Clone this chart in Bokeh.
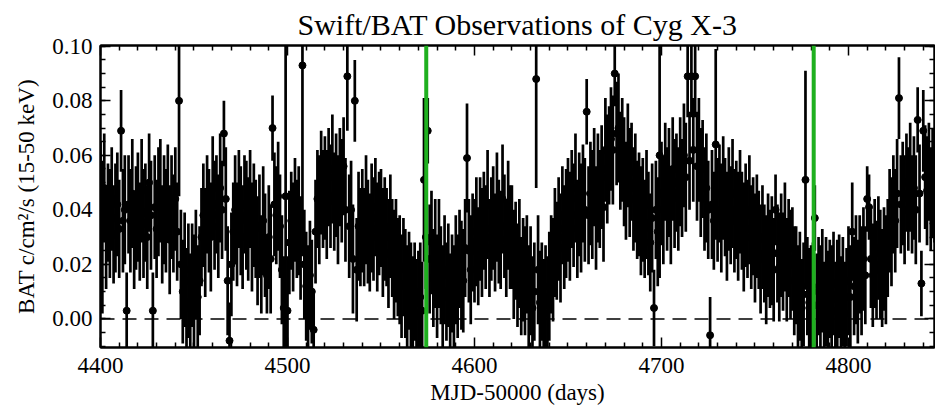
import numpy as np
from bokeh.plotting import figure
from bokeh.models import (ColumnDataSource, LinearAxis, FixedTicker, NumeralTickFormatter,
                          CustomJSTickFormatter, Span, Range1d)
from bokeh.embed import file_html
from bokeh.resources import INLINE

# ---------------- data ----------------
first_day = 4400  # MJD-50000 of first daily bin
# BAT rate in units of 1e-3 c/cm^2/s, one value per day from first_day
rate_milli = [
    40, 30, 48, 30, 39, 35, 44, 31, 37, 42,
    33, 69, 36, 40, 3, 42, 36, 46, 29, 37,
    41, 32, 47, 35, 39, 30, 50, 38, 3, 41,
    33, 43, 47, 31, 40, 36, 46, 29, 41, 35,
    44, 32, 80, 20, 10, 18, 6, 14, 4, 16,
    10, 20, 8, 14, 30, 38, 28, 42, 36, 30,
    48, 38, 42, 34, 48, 40, 68, 44, 14, -8,
    20, 32, 40, 31, 44, 36, 30, 42, 38, 33,
    44, 30, 38, 33, 25, 34, 20, 36, 27, 16,
    30, 22, 70, 42, 38, 45, 34, 18, 4, 45,
    3, 28, 36, 30, 40, 33, 36, 26, 93, 20,
    12, 8, 16, 10, -4, 32, 44, 40, 50, 44,
    48, 42, 52, 45, 55, 43, 49, 40, 52, 47,
    56, 40, 89, 34, 40, 22, 80, 18, 34, 30,
    36, 30, 40, 32, 28, 37, 33, 41, 30, 35,
    37, 28, 33, 30, 24, 34, 26, 20, 25, 19,
    18, 12, 19, 13, 8, 14, 8, 4, 10, 2,
    6, 8, 3, 51, 30, 69, 22, 28, 15, 24,
    12, 24, 16, 8, 18, 10, 16, 4, 13, 8,
    18, 12, 22, 16, 14, 26, 59, 25, 18, 28,
    25, 32, 23, 33, 28, 36, 30, 42, 26, 33,
    37, 28, 41, 32, 29, 44, 34, 26, 38, 30,
    30, 20, 25, 16, 24, 12, 18, 14, 20, 8,
    14, 4, 10, 88, 18, 6, 10, 2, 8, 5,
    12, 20, 18, 28, 25, 33, 26, 38, 30, 35,
    40, 34, 44, 38, 48, 33, 42, 37, 46, 40,
    76, 38, 46, 42, 52, 37, 48, 44, 52, 41,
    62, 55, 60, 66, 62, 90, 68, 70, 58, 62,
    54, 47, 60, 50, 54, 44, 48, 40, 42, 36,
    40, 33, 42, 35, 28, 37, 4, 40, 32, 60,
    46, 40, 54, 44, 50, 38, 55, 46, 50, 44,
    54, 48, 60, 52, 89, 58, 89, 62, 89, 56,
    62, 50, 55, 44, 48, 40, -6, 42, 36, 64,
    40, 46, 37, 48, 41, 34, 44, 38, 46, 36,
    40, 34, 43, 36, 30, 38, 33, 40, 30, 34,
    26, 34, 29, 22, 30, 24, 18, 27, 22, 25,
    18, 40, 24, 19, 27, 21, 30, 18, 26, 20,
    22, 14, 16, 8, 12, 4, 9, 51, 12, 6,
    8, 10, 37, 5, 12, 7, 14, 3, 10, 6,
    11, 7, 13, 3, 9, 12, 5, 10, 2, 8,
    14, 8, 32, 12, 18, 10, 20, 14, 22, 16,
    44, 41, 22, 16, 24, 18, 26, 20, 15, 22,
    18, 26, 36, 32, 42, 36, 46, 81, 42, 46,
    40, 50, 44, 52, 42, 48, 40, 73, 46, 13,
    69, 52, 47, 54, 44, 50, 46,
]
# 1-sigma errors, same units
err_milli = [
    25, 28, 20, 19, 18, 20, 19, 18, 20, 19,
    18, 15, 19, 20, 14, 18, 19, 20, 18, 19,
    20, 18, 19, 20, 18, 19, 18, 20, 14, 19,
    18, 20, 19, 18, 20, 19, 18, 20, 19, 18,
    19, 18, 35, 20, 19, 21, 20, 21, 20, 19,
    21, 20, 19, 20, 18, 19, 20, 18, 19, 20,
    19, 20, 18, 19, 20, 18, 12, 19, 20, 14,
    19, 18, 20, 19, 18, 20, 19, 18, 20, 19,
    18, 20, 19, 18, 20, 19, 18, 20, 19, 14,
    19, 20, 12, 19, 18, 20, 19, 20, 19, 60,
    20, 19, 18, 20, 19, 18, 20, 19, 70, 20,
    20, 19, 20, 19, 14, 19, 18, 20, 19, 18,
    19, 20, 18, 19, 20, 18, 19, 20, 18, 19,
    18, 19, 20, 19, 18, 20, 15, 19, 20, 18,
    19, 18, 20, 19, 18, 20, 19, 18, 20, 19,
    18, 20, 19, 18, 20, 19, 18, 20, 19, 18,
    20, 19, 18, 20, 19, 18, 20, 19, 18, 20,
    19, 20, 18, 30, 19, 12, 20, 19, 18, 20,
    19, 20, 18, 19, 20, 18, 19, 20, 18, 19,
    20, 19, 18, 20, 19, 18, 20, 19, 20, 18,
    19, 20, 18, 19, 20, 18, 19, 20, 18, 19,
    19, 18, 20, 19, 18, 20, 19, 18, 20, 19,
    19, 20, 18, 19, 20, 18, 19, 20, 18, 19,
    20, 19, 18, 40, 20, 19, 18, 20, 19, 18,
    20, 18, 19, 20, 18, 19, 20, 18, 19, 20,
    19, 20, 18, 19, 20, 18, 19, 20, 18, 19,
    12, 18, 19, 20, 18, 19, 20, 18, 19, 20,
    19, 20, 18, 19, 20, 12, 19, 20, 18, 19,
    20, 18, 19, 20, 18, 19, 20, 18, 19, 20,
    19, 18, 20, 19, 18, 20, 14, 18, 20, 45,
    19, 20, 18, 19, 20, 18, 19, 20, 18, 19,
    20, 18, 19, 20, 15, 18, 15, 19, 15, 20,
    19, 20, 18, 19, 20, 18, 14, 20, 18, 35,
    19, 18, 20, 19, 18, 20, 19, 18, 20, 19,
    18, 20, 19, 18, 20, 19, 18, 20, 19, 18,
    20, 19, 18, 20, 19, 18, 20, 19, 18, 20,
    19, 13, 18, 20, 19, 18, 20, 19, 18, 20,
    19, 20, 18, 19, 20, 18, 19, 40, 18, 20,
    19, 18, 12, 19, 18, 20, 19, 18, 20, 19,
    18, 20, 19, 18, 20, 19, 18, 20, 19, 18,
    20, 19, 18, 18, 20, 19, 18, 20, 19, 18,
    12, 12, 18, 19, 20, 18, 19, 20, 18, 19,
    20, 18, 19, 20, 18, 19, 20, 15, 18, 19,
    20, 18, 19, 20, 18, 19, 20, 12, 18, 12,
    15, 19, 20, 18, 19, 20, 18,
]
marker_days = [4574.2, 4781.4]          # green vertical lines
x_major_ticks = [4400, 4500, 4600, 4700, 4800]
y_major_ticks = [0.00, 0.02, 0.04, 0.06, 0.08, 0.10]

# ---------------- build ----------------
n = min(len(rate_milli), len(err_milli))
days = first_day + np.arange(n)
rate = np.array(rate_milli[:n], dtype=float) / 1000.0
err = np.array(err_milli[:n], dtype=float) / 1000.0
src = ColumnDataSource(dict(x=days, y=rate, lo=rate - err, hi=rate + err))

FONT = "Liberation Serif"
TICK_FONT = "'Liberation Serif', serif"

p = figure(width=935, height=410, output_backend="svg", toolbar_location=None,
           x_range=Range1d(4400, 4846), y_range=Range1d(-0.0105, 0.1003),
           min_border_left=100, min_border_right=1, min_border_top=42, min_border_bottom=63,
           title="Swift/BAT Observations of Cyg X-3",
           x_axis_label="MJD-50000 (days)", y_axis_label="BAT c/cm²/s (15-50 keV)")
p.background_fill_color = "white"
p.border_fill_color = "white"
p.grid.visible = False
p.outline_line_color = "black"
p.outline_line_width = 2

p.title.text_font = FONT
p.title.text_font_size = "30px"
p.title.text_font_style = "normal"
p.title.align = "center"
p.title.text_color = "black"

x_minor = [v for v in np.arange(4400, 4850, 10).tolist() if v not in x_major_ticks]
y_minor = [round(v, 3) for v in np.arange(-0.01, 0.1001, 0.005).tolist()]
xt = FixedTicker(ticks=x_major_ticks, minor_ticks=x_minor)
yt = FixedTicker(ticks=y_major_ticks, minor_ticks=y_minor)


def style(ax):
    ax.axis_line_width = 2
    ax.axis_line_color = "black"
    ax.major_tick_in = 10
    ax.major_tick_out = 0
    ax.minor_tick_in = 5
    ax.minor_tick_out = 0
    ax.major_tick_line_width = 1.5
    ax.minor_tick_line_width = 1.5
    ax.major_tick_line_color = "black"
    ax.minor_tick_line_color = "black"
    ax.major_label_text_font = TICK_FONT
    ax.major_label_text_font_size = "23px"
    ax.major_label_text_font_style = "normal"
    ax.major_label_text_color = "black"
    ax.axis_label_text_font = FONT
    ax.axis_label_text_font_size = "23px"
    ax.axis_label_text_font_style = "normal"
    ax.axis_label_text_color = "black"


xa = p.xaxis[0]
xa.ticker = xt
style(xa)
xa.major_label_standoff = 10
xa.axis_label_standoff = 4

ya = p.yaxis[0]
ya.ticker = yt
ya.formatter = NumeralTickFormatter(format="0.00")
style(ya)
ya.major_label_standoff = 8
ya.axis_label_standoff = 10

blank = CustomJSTickFormatter(code="return ''")
top = LinearAxis(ticker=FixedTicker(ticks=x_major_ticks, minor_ticks=x_minor), formatter=blank)
style(top)
top.major_label_standoff = 0
p.add_layout(top, "above")
right = LinearAxis(ticker=FixedTicker(ticks=y_major_ticks, minor_ticks=y_minor), formatter=blank)
style(right)
right.major_label_standoff = 0
p.add_layout(right, "right")

# zero line
p.add_layout(Span(location=0.0, dimension="width", line_color="black",
                  line_width=1.5, line_dash="14 8", level="underlay"))

p.segment(x0="x", y0="lo", x1="x", y1="hi", source=src, line_color="black", line_width=2.7)
p.scatter("x", "y", source=src, size=7, fill_color="black", line_color="black")

for d in marker_days:
    p.add_layout(Span(location=d, dimension="height", line_color="#1fb01f", line_width=4))

open("out.html", "w").write(file_html(p, INLINE))
